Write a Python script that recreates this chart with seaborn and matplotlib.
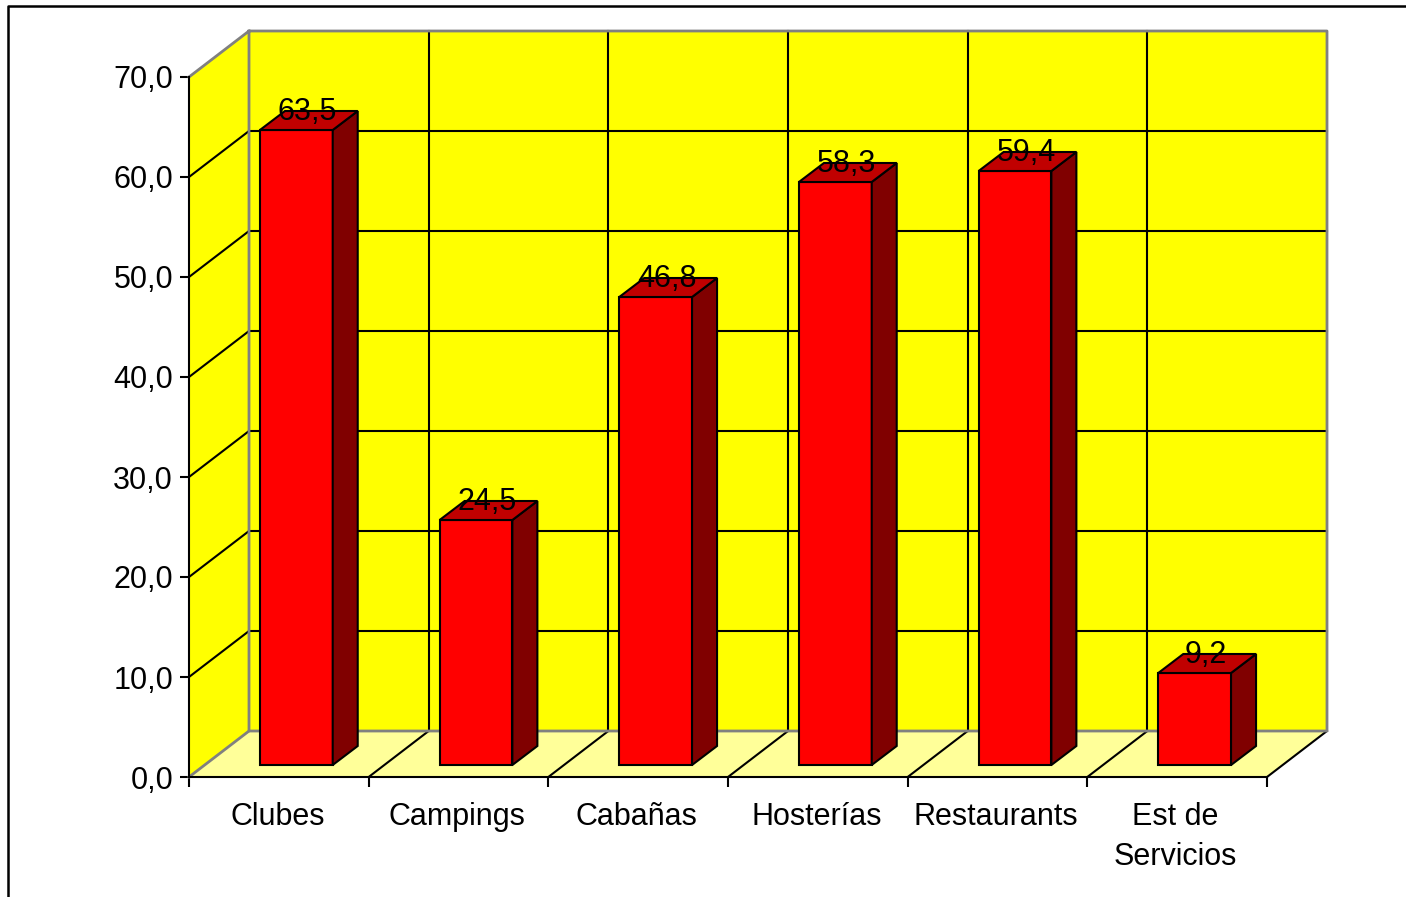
import matplotlib
matplotlib.use("Agg")
import matplotlib.pyplot as plt
from matplotlib.patches import Polygon
from matplotlib.lines import Line2D
from matplotlib.transforms import Affine2D, ScaledTranslation
import pandas as pd
import seaborn as sns

categorias = ["Clubes", "Campings", "Cabañas", "Hosterías", "Restaurants", "Est de\nServicios"]
valores = [63.5, 24.5, 46.8, 58.3, 59.4, 9.2]
etiquetas = ["63,5", "24,5", "46,8", "58,3", "59,4", "9,2"]
ticks_y = [0, 10, 20, 30, 40, 50, 60, 70]
ticks_y_txt = ["0,0", "10,0", "20,0", "30,0", "40,0", "50,0", "60,0", "70,0"]

sns.set_theme(style="white")
plt.rcParams["font.family"] = ["Liberation Sans", "DejaVu Sans"]

W, H = 1406, 897
fig = plt.figure(figsize=(W / 100, H / 100), dpi=100, facecolor="white")
ax = fig.add_axes([189 / W, (H - 777) / H, 1078 / W, 700 / H])
ax.patch.set_visible(False)

# pixeles -> unidades de datos
px = 6 / 1078
py = 70 / 700
fondo_x, fondo_y = 60 * px, 46 * py
lw = 1.5
gris = "#808080"
letra = 22


def poli(puntos, color, z, borde="none"):
    ax.add_patch(Polygon(puntos, closed=True, facecolor=color, edgecolor=borde,
                         linewidth=lw, zorder=z, clip_on=False))


def linea(xs, ys, color="black", z=1.5, ancho=lw):
    ax.add_line(Line2D(xs, ys, color=color, linewidth=ancho, zorder=z, clip_on=False,
                       solid_capstyle="projecting"))


df = pd.DataFrame({"categoria": categorias, "valor": valores})
sns.barplot(data=df, x="categoria", y="valor", color="#FF0000", saturation=1,
            width=0.405, edgecolor="black", linewidth=lw, ax=ax, zorder=3)
ax.set_xlim(-0.5, 5.5)
ax.set_ylim(0, 70)

x0, x1 = -0.5, 5.5
# paredes y piso
poli([(x0 + fondo_x, fondo_y), (x1 + fondo_x, fondo_y), (x1 + fondo_x, 70 + fondo_y), (x0 + fondo_x, 70 + fondo_y)], "#FFFF00", 1)
poli([(x0, 0), (x0 + fondo_x, fondo_y), (x0 + fondo_x, 70 + fondo_y), (x0, 70)], "#FFFF00", 1)
poli([(x0, 0), (x1, 0), (x1 + fondo_x, fondo_y), (x0 + fondo_x, fondo_y)], "#FFFF99", 1)

# rejilla
for v in ticks_y[1:-1]:
    linea([x0, x0 + fondo_x], [v, v + fondo_y])
    linea([x0 + fondo_x, x1 + fondo_x], [v + fondo_y, v + fondo_y])
for i in range(1, 6):
    linea([x0 + i + fondo_x] * 2, [fondo_y, 70 + fondo_y])
    linea([x0 + i, x0 + i + fondo_x], [0, fondo_y])
linea([x1, x1 + fondo_x], [0, fondo_y])

# bordes grises de las paredes
linea([x0, x0 + fondo_x, x1 + fondo_x, x1 + fondo_x, x0 + fondo_x, x0 + fondo_x],
      [70, 70 + fondo_y, 70 + fondo_y, fondo_y, fondo_y, 70 + fondo_y], gris, 1.7, 2)
linea([x0, x0 + fondo_x], [0, fondo_y], gris, 1.7, 2)

# barras: el frente se corre hacia el fondo, mas cara lateral y tapa
dx, dy = 17.5 * px, 12 * py
prof_x, prof_y = 25 * px, 19 * py
desplazar = Affine2D().translate(dx, dy) + ax.transData
for barra, texto in zip(ax.patches, etiquetas):
    barra.set_transform(desplazar)
    barra.set_clip_on(False)
    a = barra.get_x() + dx
    b = a + barra.get_width()
    h = barra.get_height() + dy
    poli([(b, dy), (b + prof_x, dy + prof_y), (b + prof_x, h + prof_y), (b, h)], "#800000", 3, "black")
    poli([(a, h), (b, h), (b + prof_x, h + prof_y), (a + prof_x, h + prof_y)], "#C00000", 3, "black")
    ax.text((a + b) / 2 + 11 * px, h + 10 * py, texto, ha="center", va="baseline",
            fontsize=letra, color="black", zorder=4, clip_on=False)

# ejes
ax.set_xlabel("")
ax.set_ylabel("")
ax.set_yticks(ticks_y, ticks_y_txt)
ax.set_xticks(range(6), categorias)
ax.set_xticks([x0 + i for i in range(7)], minor=True)
ax.tick_params(axis="x", which="major", length=0, pad=18, labelsize=letra, labelcolor="black")
ax.tick_params(axis="x", which="minor", length=7, width=lw, color="black", bottom=True)
ax.tick_params(axis="y", length=6.5, width=lw, color="black", pad=5, labelsize=letra,
               labelcolor="black", left=True)
corrida = ScaledTranslation(-1.5 / 100, 0, fig.dpi_scale_trans)
for lab in ax.get_xticklabels():
    lab.set_linespacing(1.42)
    lab.set_transform(lab.get_transform() + corrida)
sns.despine(ax=ax)
for lado in ["left", "bottom"]:
    ax.spines[lado].set_color("black")
    ax.spines[lado].set_linewidth(lw)
    ax.spines[lado].set_zorder(2)

# marco exterior, solo arriba e izquierda quedan dentro del recorte
fig.add_artist(Line2D([8 / W, 8 / W, 1], [0, (H - 6) / H, (H - 6) / H],
                      color="black", linewidth=1.8, transform=fig.transFigure))

fig.savefig("out.png", dpi=100)
